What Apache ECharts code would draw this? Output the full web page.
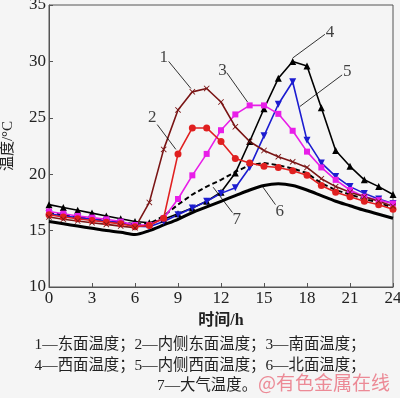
<!DOCTYPE html>
<html><head><meta charset="utf-8">
<script src="https://cdn.jsdelivr.net/npm/echarts@6/dist/echarts.min.js"></script>
<style>html,body{margin:0;padding:0;background:#f5f5f5}#c{width:400px;height:398px}</style>
</head><body><div id="c"></div>
<script>
const hours = [0,1,2,3,4,5,6,7,8,9,10,11,12,13,14,15,16,17,18,19,20,21,22,23,24];
const xTicks = [0,3,6,9,12,15,18,21,24];
const yTicks = [10,15,20,25,30,35];
const s1 = [16.2,16.0,15.85,15.7,15.55,15.4,15.25,17.5,22.2,25.7,27.3,27.6,26.4,24.2,22.9,22.1,21.55,21.1,20.6,19.6,18.9,18.4,18.0,17.6,17.15];
const s2 = [16.4,16.2,16.05,15.9,15.75,15.6,15.35,15.45,16.1,21.8,24.1,24.1,22.9,21.4,21.0,20.7,20.6,20.3,19.9,19.0,18.4,18.0,17.6,17.3,16.9];
const s3 = [16.7,16.5,16.3,16.15,16.0,15.8,15.5,15.5,16.1,17.8,19.9,21.8,23.9,25.3,26.1,26.1,25.35,23.85,22.0,20.6,19.5,18.6,18.0,17.7,17.4];
const s4 = [17.3,17.05,16.8,16.55,16.3,16.05,15.8,15.7,16.0,16.5,17.0,17.6,18.4,20.1,22.9,25.8,28.5,30.0,29.6,25.9,22.1,20.7,19.5,18.9,18.2];
const s5 = [16.5,16.3,16.15,16.0,15.85,15.7,15.4,15.35,15.8,16.4,17.0,17.6,18.3,18.8,20.6,23.4,26.2,28.2,23.0,21.0,19.8,18.9,18.3,17.8,17.4];
const s6 = [15.8,15.6,15.4,15.2,15.0,14.85,14.65,15.0,15.5,16.0,16.6,17.1,17.6,18.1,18.6,19.0,19.15,19.0,18.6,18.1,17.6,17.2,16.8,16.45,16.1];
const s7 = [16.6,16.4,16.2,16.05,15.9,15.75,15.55,15.6,16.3,17.3,18.2,18.9,19.5,20.2,20.8,21.0,20.8,20.5,20.1,19.2,18.6,18.2,17.8,17.5,17.0];
const labelNames = ['1','2','3','4','5','6','7'];
const labelPos = [[8.0,30.3],[7.2,25.0],[12.1,29.2],[19.6,32.6],[20.8,29.1],[16.1,16.65],[13.1,15.94]];
const leaderStart = [[8.35,30.0],[7.55,24.4],[12.4,29.0],[19.25,32.4],[20.45,28.8],[15.8,17.3],[12.8,16.6]];
const leaderEnd = [[9.9,27.6],[8.85,22.2],[13.85,26.4],[17.0,30.3],[17.5,26.0],[14.9,18.9],[11.45,18.85]];
const yName = '温度/°C';
const xName = '时间/h';
const legendLines = ['1—东面温度；2—内侧东面温度；3—南面温度；','4—西面温度；5—内侧西面温度；6—北面温度；','7—大气温度。'];
const watermark = '@有色金属在线';

const serif = "Liberation Serif, Noto Sans CJK SC, serif";
const xMark = 'path://M0,1L1,0L5,4L9,0L10,1L6,5L10,9L9,10L5,6L1,10L0,9L4,5Z';
function pairs(arr){ return hours.map((h,i)=>[h,arr[i]]); }
function lineSeries(data, color, symbol, size, extra){
  return Object.assign({type:'line', data:pairs(data), symbol:symbol, symbolSize:size,
    itemStyle:{color:color}, lineStyle:{color:color,width:1.6}, animation:false, z:3}, extra||{});
}
const chart = echarts.init(document.getElementById('c'), null, {renderer:'canvas'});
chart.setOption({
  backgroundColor:'#f5f5f5',
  animation:false,
  grid:{left:49,right:7,top:5,bottom:111,show:true,borderColor:'#555',borderWidth:1,
    containLabel:false,outerBoundsMode:'none'},
  xAxis:{type:'value',min:0,max:24,interval:3,
    axisLine:{lineStyle:{color:'#555'}},axisTick:{inside:true,length:4,lineStyle:{color:'#555'}},
    splitLine:{show:false},
    axisLabel:{color:'#222',fontFamily:serif,fontSize:17,margin:3,
      formatter:v=>xTicks.includes(v)?String(v):''},
    name:xName,nameLocation:'middle',nameGap:26,
    nameTextStyle:{color:'#222',fontFamily:serif,fontSize:16,fontWeight:'bold'}},
  yAxis:{type:'value',min:10,max:35,interval:5,
    axisLine:{lineStyle:{color:'#555'}},axisTick:{inside:true,length:4,lineStyle:{color:'#555'}},
    splitLine:{show:false},
    axisLabel:{color:'#222',fontFamily:serif,fontSize:17,margin:3,
      formatter:v=>yTicks.includes(v)?String(v):''},
    name:yName,nameLocation:'middle',nameGap:33,nameRotate:90,
    nameTextStyle:{color:'#222',fontFamily:serif,fontSize:15}},
  series:[
    {type:'line',data:pairs(s6),symbol:'none',smooth:0.3,lineStyle:{color:'#000',width:3},z:2,animation:false},
    {type:'line',data:pairs(s7),symbol:'none',lineStyle:{color:'#000',width:2,type:[5,3]},z:2,animation:false},
    lineSeries(s4,'#000','triangle',7),
    lineSeries(s5,'#1c1cd0','triangle',7,{symbolRotate:180}),
    lineSeries(s3,'#e81ee8','rect',6),
    lineSeries(s2,'#e02020','circle',7),
    lineSeries(s1,'#7a1515',xMark,6),
    {type:'lines',coordinateSystem:'cartesian2d',polyline:false,animation:false,z:5,
      lineStyle:{color:'#000',width:0.8,opacity:1},
      data:leaderStart.map((p,i)=>({coords:[p,leaderEnd[i]]}))},
    {type:'scatter',symbolSize:1,itemStyle:{color:'rgba(0,0,0,0)'},animation:false,z:6,
      data:labelPos.map((p,i)=>({value:p,name:labelNames[i]})),
      label:{show:true,position:'inside',formatter:'{b}',color:'#111',fontFamily:serif,fontSize:17}}
  ],
  graphic:[
    {type:'text',left:'center',top:337,style:{text:legendLines[0],font:"15.4px Liberation Serif, Noto Sans CJK SC",fill:'#222'}},
    {type:'text',left:'center',top:358,style:{text:legendLines[1],font:"15.4px Liberation Serif, Noto Sans CJK SC",fill:'#222'}},
    {type:'text',left:157,top:378,style:{text:legendLines[2],font:"15.4px Liberation Serif, Noto Sans CJK SC",fill:'#222'}},
    {type:'text',left:258,top:373,style:{text:watermark,font:"19px Noto Sans CJK SC",fill:'#ec8a96'}}
  ]
});
</script></body></html>
